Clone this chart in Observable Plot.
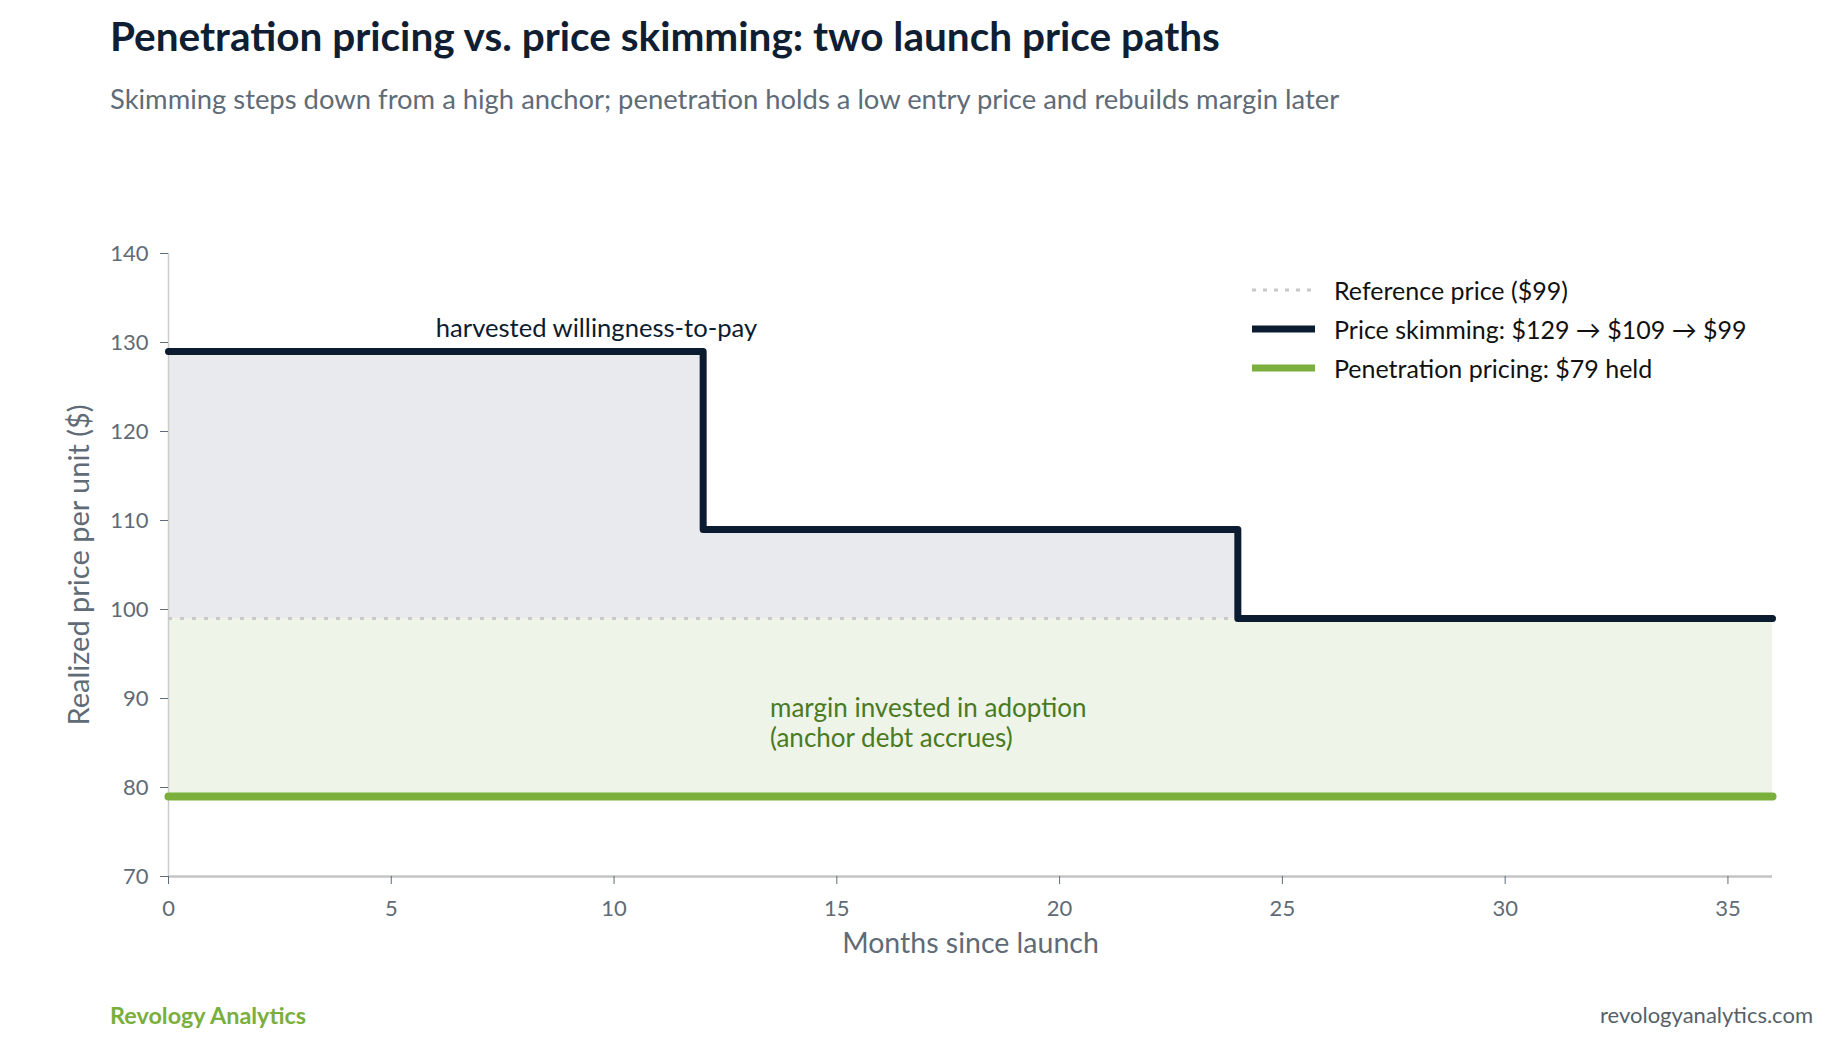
<!DOCTYPE html>
<html>
<head>
<meta charset="utf-8">
<script src="https://cdn.jsdelivr.net/npm/d3@7"></script>
<script src="https://cdn.jsdelivr.net/npm/@observablehq/plot@0.6"></script>
<style>
  html, body { margin: 0; padding: 0; background: #ffffff; }
  #page { position: relative; width: 1839px; height: 1040px; font-family: Lato, "Noto Sans", sans-serif; overflow: hidden; }
  .abs { position: absolute; white-space: nowrap; line-height: 1; }
  #title { left: 110px; top: 16px; font-size: 40.5px; font-weight: 700; color: #0f1e33; }
  #subtitle { left: 110px; top: 85px; font-size: 27.4px; color: #5f6b76; }
  #chart { position: absolute; left: 0; top: 150px; }
  #brand { left: 110px; top: 1004px; font-size: 23.4px; font-weight: 700; color: #7aaf3b; }
  #site { right: 26px; top: 1004px; font-size: 22px; color: #555f69; }
  .leg { position: absolute; left: 1252px; height: 30px; display: flex; align-items: center; font-size: 25px; color: #111111; white-space: nowrap; }
  .leg svg { margin-right: 19px; }
</style>
</head>
<body>
<div id="page">
  <div id="title" class="abs"></div>
  <div id="subtitle" class="abs"></div>
  <div id="chart"></div>
  <div id="legend"></div>
  <div id="brand" class="abs"></div>
  <div id="site" class="abs"></div>
</div>
<script>
// ---- text ----
const titleText = "Penetration pricing vs. price skimming: two launch price paths";
const subtitleText = "Skimming steps down from a high anchor; penetration holds a low entry price and rebuilds margin later";
const xLabel = "Months since launch";
const yLabel = "Realized price per unit ($)";
const brandText = "Revology Analytics";
const siteText = "revologyanalytics.com";

// ---- data ----
const months = [0, 12, 24, 36];
const skimmingPrice = [129, 109, 99, 99];
const penetrationPrice = [79, 79, 79, 79];
const referencePrice = 99;

const xTicks = [0, 5, 10, 15, 20, 25, 30, 35];
const yTicks = [70, 80, 90, 100, 110, 120, 130, 140];
const xDomain = [0, 36];
const yDomain = [70, 140];

const legendLabels = ["Reference price ($99)", "Price skimming: $129 \u2192 $109 \u2192 $99", "Penetration pricing: $79 held"];

const annoTopText = ["harvested willingness-to-pay"];
const annoTopX = [6];
const annoTopY = [131.5];
const annoBottomText = ["margin invested in adoption\n(anchor debt accrues)"];
const annoBottomX = [13.5];
const annoBottomY = [87.3];

// ---- colours ----
const navy = "#0c1c30";
const green = "#7aaf3b";
const greenText = "#4b7a22";
const greyText = "#5f6b76";

document.getElementById("title").textContent = titleText;
document.getElementById("subtitle").textContent = subtitleText;
document.getElementById("brand").textContent = brandText;
document.getElementById("site").textContent = siteText;

const rows = months.map((m, i) => ({month: m, skim: skimmingPrice[i], pen: penetrationPrice[i], ref: referencePrice}));

const chart = Plot.plot({
  width: 1839,
  height: 840,
  marginLeft: 168,
  marginRight: 67,
  marginTop: 103,
  marginBottom: 114,
  style: {fontFamily: "Lato, 'Noto Sans', sans-serif", background: "transparent"},
  x: {domain: xDomain, ticks: xTicks},
  y: {domain: yDomain, ticks: yTicks},
  marks: [
    // green band between penetration price and reference price
    Plot.areaY(rows, {x: "month", y1: "pen", y2: "ref", fill: "#eef4e8", curve: "step-after"}),
    // grey band between reference price and skimming price
    Plot.areaY(rows, {x: "month", y1: "ref", y2: "skim", fill: "#e9eaed", curve: "step-after"}),
    // axis lines
    Plot.ruleX([xDomain[0]], {stroke: "#cccccc", strokeWidth: 1.5}),
    Plot.ruleY([yDomain[0]], {stroke: "#c4c4c4", strokeWidth: 2.5}),
    // reference price
    Plot.ruleY([referencePrice], {stroke: "#c8c8c8", strokeWidth: 3, strokeDasharray: "4 8"}),
    // penetration
    Plot.line(rows, {x: "month", y: "pen", stroke: green, strokeWidth: 8, curve: "step-after"}),
    // skimming
    Plot.line(rows, {x: "month", y: "skim", stroke: navy, strokeWidth: 7, curve: "step-after", strokeLinejoin: "round"}),
    // annotations
    Plot.text(annoTopText, {x: (d, i) => annoTopX[i], y: (d, i) => annoTopY[i], text: d => d, textAnchor: "start", lineAnchor: "middle", fontSize: 25.6, fill: navy}),
    Plot.text(annoBottomText, {x: (d, i) => annoBottomX[i], y: (d, i) => annoBottomY[i], text: d => d, textAnchor: "start", lineAnchor: "middle", fontSize: 26, fill: greenText, lineHeight: 1.15}),
    // axes
    Plot.axisY(yTicks, {tickSize: 8, tickPadding: 12, fontSize: 22, color: greyText, label: null}),
    Plot.axisX(xTicks, {tickSize: 8, tickPadding: 16, fontSize: 22, color: greyText, label: null}),
    Plot.text([yLabel], {frameAnchor: "left", dx: -89, rotate: -90, lineAnchor: "middle", textAnchor: "middle", fontSize: 29, fill: greyText}),
    Plot.text([xLabel], {frameAnchor: "bottom", dy: 67, lineAnchor: "middle", textAnchor: "middle", fontSize: 28.5, fill: greyText})
  ]
});
document.getElementById("chart").appendChild(chart);

// ---- legend ----
const legendCenters = [290, 329, 368];
const legendStyles = [
  {stroke: "#c8c8c8", width: 3, dash: "4 7"},
  {stroke: navy, width: 7, dash: null},
  {stroke: green, width: 7, dash: null}
];
const legend = document.getElementById("legend");
legendLabels.forEach((lab, i) => {
  const row = document.createElement("div");
  row.className = "leg";
  row.style.top = (legendCenters[i] - 15) + "px";
  const st = legendStyles[i];
  row.innerHTML = `<svg width="63" height="12"><line x1="0" x2="63" y1="6" y2="6" stroke="${st.stroke}" stroke-width="${st.width}" ${st.dash ? `stroke-dasharray="${st.dash}"` : ""}/></svg><span></span>`;
  row.querySelector("span").textContent = lab;
  legend.appendChild(row);
});
</script>
</body>
</html>
